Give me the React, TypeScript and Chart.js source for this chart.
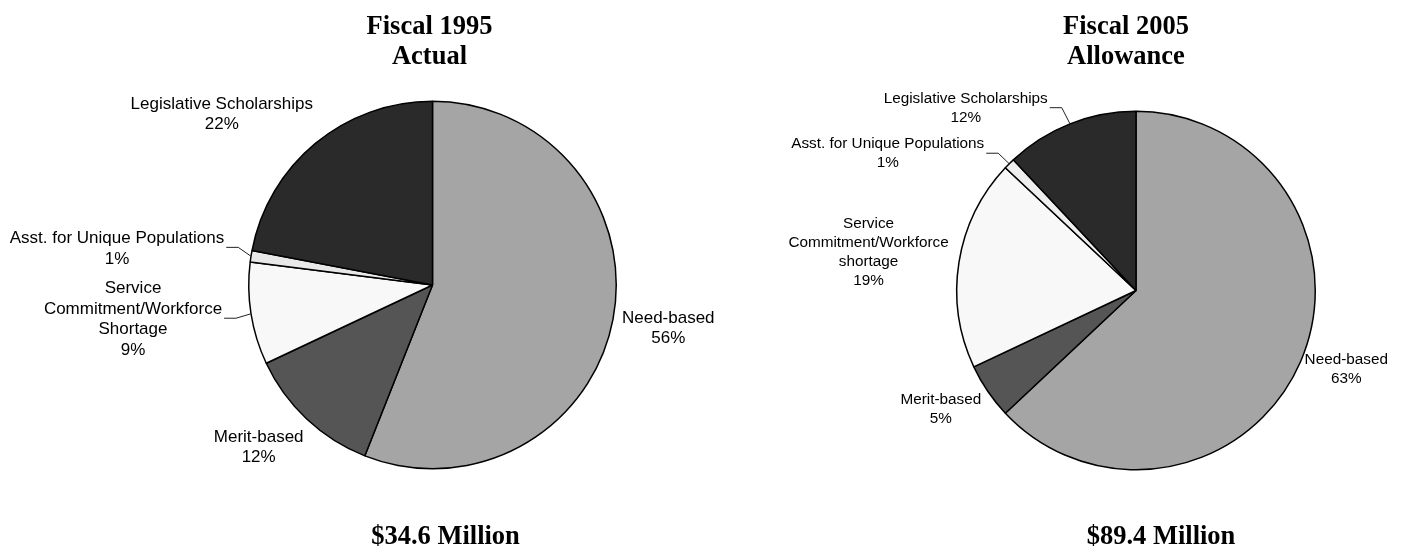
import React, { useEffect, useRef } from "react";
import { Chart, registerables } from "chart.js";

Chart.register(...registerables);

// ---------- data ----------
const leftCategories = [
  ["Need-based"],
  ["Merit-based"],
  ["Service", "Commitment/Workforce", "Shortage"],
  ["Asst. for Unique Populations"],
  ["Legislative Scholarships"],
];
const leftValues = [56, 12, 9, 1, 22];
const leftTitle = ["Fiscal 1995", "Actual"];
const leftTotal = "$34.6 Million";

const rightCategories = [
  ["Need-based"],
  ["Merit-based"],
  ["Service", "Commitment/Workforce", "shortage"],
  ["Asst. for Unique Populations"],
  ["Legislative Scholarships"],
];
const rightValues = [63, 5, 19, 1, 12];
const rightTitle = ["Fiscal 2005", "Allowance"];
const rightTotal = "$89.4 Million";

// ---------- styles / layout ----------
const leftColors = ["#A5A5A5", "#555555", "#F8F8F8", "#E8E8E8", "#2A2A2A"];
const rightColors = ["#A5A5A5", "#555555", "#F8F8F8", "#EEEEEE", "#2A2A2A"];

const leftLabelLayout = [
  { dx: 1.283, dy: 0.236 },
  { dx: -0.946, dy: 0.883 },
  { dx: -1.63, dy: 0.1875, leader: 1 },
  { dx: -1.717, dy: -0.198, leader: 0 },
  { dx: -1.147, dy: -0.929 },
];
const rightLabelLayout = [
  { dx: 1.173, dy: 0.441 },
  { dx: -1.089, dy: 0.662 },
  { dx: -1.492, dy: -0.212 },
  { dx: -1.385, dy: -0.763, leader: 0 },
  { dx: -0.95, dy: -1.017, leader: 0 },
];

const labelPlugin = {
  id: "pieLabels",
  afterDraw(chart: any, _args: any, opts: any) {
    const ctx = chart.ctx;
    const meta = chart.getDatasetMeta(0);
    const lh = opts.lineHeight;
    ctx.save();
    let pcx = 0;
    meta.data.forEach((arc: any, i: number) => {
      const { x, y, startAngle, endAngle, outerRadius } = arc.getProps(
        ["x", "y", "startAngle", "endAngle", "outerRadius"],
        true
      );
      pcx = x;
      const pos = opts.layout[i];
      const cx = x + pos.dx * outerRadius;
      const cy = y + pos.dy * outerRadius;
      const lines = [...opts.categories[i], `${opts.values[i]}%`];
      ctx.font = `${opts.fontSize}px "Liberation Sans", Arial, sans-serif`;
      ctx.textAlign = "center";
      ctx.textBaseline = "middle";
      ctx.fillStyle = "#000";
      const top = cy - ((lines.length - 1) * lh) / 2;
      lines.forEach((t: string, k: number) => ctx.fillText(t, cx, top + k * lh));
      if (pos.leader !== undefined) {
        const k = pos.leader;
        const w = ctx.measureText(lines[k]).width;
        const sx = cx + w / 2 + 2;
        const sy = top + k * lh + opts.leaderDy;
        const mid = (startAngle + endAngle) / 2;
        const ex = x + Math.cos(mid) * outerRadius;
        const ey = y + Math.sin(mid) * outerRadius;
        ctx.beginPath();
        ctx.strokeStyle = "#222";
        ctx.lineWidth = 1;
        ctx.moveTo(sx, sy);
        ctx.lineTo(sx + 12, sy);
        ctx.lineTo(ex, ey);
        ctx.stroke();
      }
    });
    // titles
    ctx.font = `bold ${opts.titleSize}px "Liberation Serif", "Times New Roman", serif`;
    ctx.textAlign = "center";
    ctx.textBaseline = "middle";
    ctx.fillStyle = "#000";
    opts.title.forEach((t: string, k: number) =>
      ctx.fillText(t, pcx + opts.titleDx, opts.titleY[k])
    );
    ctx.fillText(opts.total, pcx + opts.totalDx, opts.totalY);
    ctx.restore();
  },
};

function PieChart(props: any) {
  const ref = useRef<HTMLCanvasElement>(null);
  useEffect(() => {
    const chart = new Chart(ref.current as HTMLCanvasElement, {
      type: "pie",
      data: {
        labels: props.categories.map((c: string[]) => c.join(" ")),
        datasets: [
          {
            data: props.values,
            backgroundColor: props.colors,
            borderColor: "#000",
            borderWidth: 1.5,
          },
        ],
      },
      options: {
        responsive: false,
        animation: false,
        devicePixelRatio: 1,
        layout: { padding: props.padding },
        plugins: {
          legend: { display: false },
          tooltip: { enabled: false },
          title: { display: false },
          pieLabels: {
            categories: props.categories,
            values: props.values,
            layout: props.labelLayout,
            fontSize: props.fontSize,
            lineHeight: props.lineHeight,
            leaderDy: props.leaderDy,
            title: props.title,
            titleSize: 26.5,
            titleDx: props.titleDx,
            titleY: [27, 57],
            total: props.total,
            totalDx: props.totalDx,
            totalY: 537,
          },
        } as any,
      },
      plugins: [labelPlugin],
    });
    return () => chart.destroy();
  }, []);
  return (
    <canvas
      ref={ref}
      width={props.width}
      height={551}
      style={{ position: "absolute", left: props.left, top: 0, width: props.width, height: 551 }}
    />
  );
}

export default function App() {
  return (
    <div style={{ position: "absolute", left: 0, top: 0, width: 1406, height: 551, background: "#fff" }}>
      <PieChart
        left={0}
        width={780}
        categories={leftCategories}
        values={leftValues}
        colors={leftColors}
        labelLayout={leftLabelLayout}
        padding={{ left: 248, right: 163, top: 100, bottom: 81 }}
        fontSize={17}
        lineHeight={20.5}
        leaderDy={9}
        title={leftTitle}
        titleDx={-3}
        total={leftTotal}
        totalDx={13}
      />
      <PieChart
        left={703}
        width={703}
        categories={rightCategories}
        values={rightValues}
        colors={rightColors}
        labelLayout={rightLabelLayout}
        padding={{ left: 253, right: 90, top: 110.5, bottom: 80.5 }}
        fontSize={15.3}
        lineHeight={19}
        leaderDy={9}
        title={rightTitle}
        titleDx={-10}
        total={rightTotal}
        totalDx={25}
      />
    </div>
  );
}
